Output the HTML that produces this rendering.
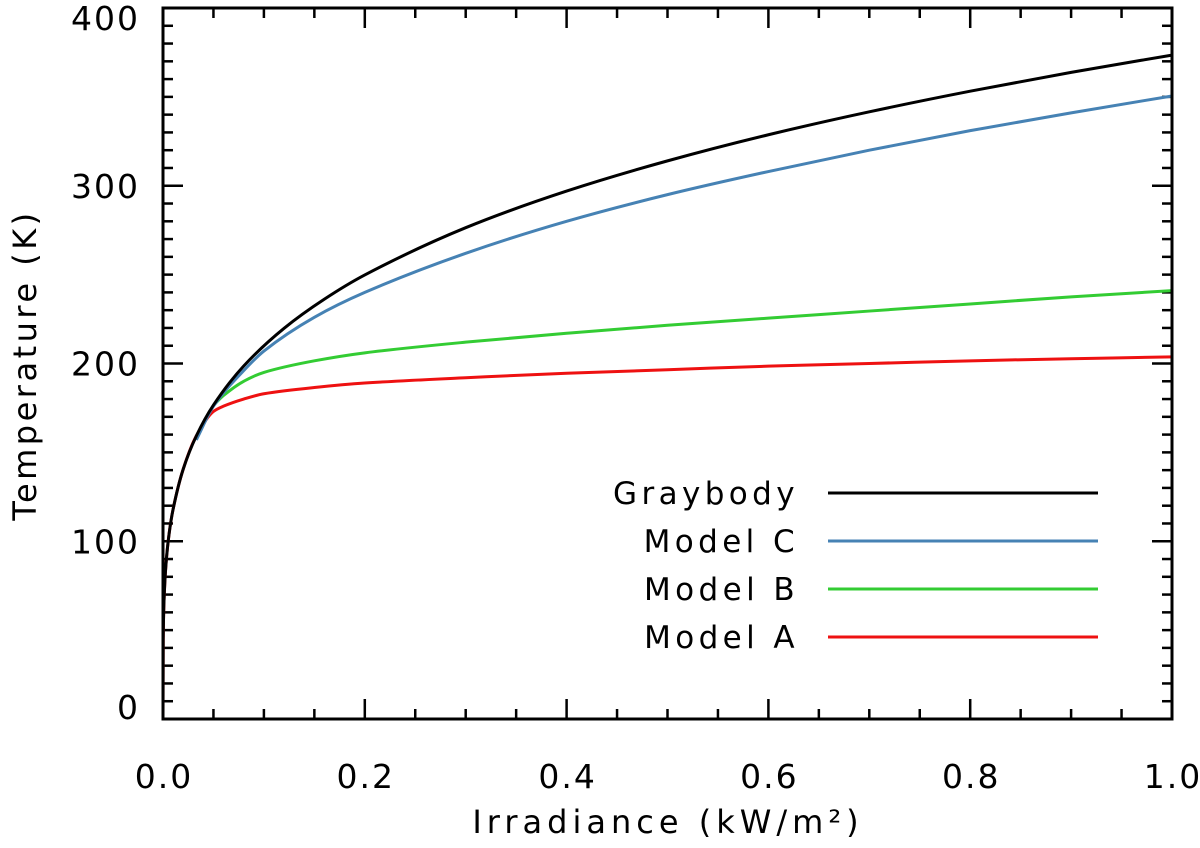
<!DOCTYPE html>
<html><head><meta charset="utf-8"><style>
html,body{margin:0;padding:0;background:#fff;}
svg{display:block;font-family:"DejaVu Sans","Liberation Sans",sans-serif;}
</style></head><body>
<svg id="chart" width="1200" height="848"></svg>
<script>
const gbX=[0,0.0002,0.001,0.003,0.006,0.01,0.02,0.033,0.05,0.08,0.12,0.16,0.2,0.3,0.4,0.5,0.6,0.7,0.8,0.9,1.0];
const gbY=[0,44.4,66.4,87.4,104,118,140.5,159.2,176.6,198.6,219.8,236.2,249.8,276.4,297,314,328.7,341.6,353.2,363.8,373.5];
const aX=[0,0.0002,0.001,0.003,0.006,0.01,0.02,0.033,0.05,0.06,0.08,0.1,0.15,0.2,0.3,0.4,0.5,0.6,0.7,0.8,0.9,1.0];
const aY=[0,44.4,66.4,87.4,104,118,140.5,159.2,173,176,180,183,186.5,189,192,194.5,196.5,198.5,200,201.5,202.7,203.7];
const bX=[0.05,0.06,0.08,0.1,0.15,0.2,0.3,0.4,0.5,0.6,0.7,0.8,0.9,1.0];
const bY=[176.5,182,190,195,201.5,206,212,217,221.5,225.5,229.5,233.5,237.5,241];
const cX=[0.033,0.05,0.08,0.1,0.15,0.2,0.3,0.4,0.5,0.6,0.7,0.8,0.9,1.0];
const cY=[157,176,196,207,226,240,262,280,295,308,320,331,341,350.5];
const xTicks=[0,0.2,0.4,0.6,0.8,1.0];
const xTickLabels=["0.0","0.2","0.4","0.6","0.8","1.0"];
const yTicks=[0,100,200,300,400];
const legendNames=["Graybody","Model C","Model B","Model A"];
const legendColors=["#000000","#4682b4","#33cc33","#ee1111"];

const L=163,R=1172,T=8,B=719;
const sx=v=>L+(R-L)*v;
const sy=v=>B-(B-T)*v/400;
const svg=document.getElementById('chart');
const NS='http://www.w3.org/2000/svg';
function mk(tag,attrs,parent){const e=document.createElementNS(NS,tag);for(const k in attrs)e.setAttribute(k,attrs[k]);(parent||svg).appendChild(e);return e;}

const tg=mk('g',{stroke:'#000','stroke-width':2.5});


for(let i=0;i<=20;i++){const v=i*0.05;const len=(i%4===0)?20:10;const x=sx(v);
 mk('line',{x1:x,y1:B,x2:x,y2:B-len},tg);mk('line',{x1:x,y1:T,x2:x,y2:T+len},tg);}
for(let i=0;i<=40;i++){const v=i*10;const len=(i%10===0)?20:10;const y=sy(v);
 mk('line',{x1:L,y1:y,x2:L+len,y2:y},tg);mk('line',{x1:R,y1:y,x2:R-len,y2:y},tg);}

function smoothPath(xs,ys){
 const px=xs.map(sx),py=ys.map(sy),n=px.length;
 const d=[],m=[];
 for(let i=0;i<n-1;i++)d.push((py[i+1]-py[i])/(px[i+1]-px[i]));
 m[0]=d[0];m[n-1]=d[n-2];
 for(let i=1;i<n-1;i++)m[i]=(d[i-1]*d[i]<=0)?0:2/(1/d[i-1]+1/d[i]);
 let s='M'+px[0].toFixed(2)+','+py[0].toFixed(2);
 for(let i=0;i<n-1;i++){const h=(px[i+1]-px[i])/3;
  s+=' C'+(px[i]+h).toFixed(2)+','+(py[i]+m[i]*h).toFixed(2)+' '+(px[i+1]-h).toFixed(2)+','+(py[i+1]-m[i+1]*h).toFixed(2)+' '+px[i+1].toFixed(2)+','+py[i+1].toFixed(2);}
 return s;}
function series(xs,ys,color,name){
 const p=mk('path',{d:smoothPath(xs,ys),fill:'none',stroke:color,'stroke-width':3,'stroke-linejoin':'round'});
 
 }
series(aX,aY,legendColors[3],'model-a-line');
series(bX,bY,legendColors[2],'model-b-line');
series(cX,cY,legendColors[1],'model-c-line');
series(gbX,gbY,legendColors[0],'graybody-line');

const fr=mk('rect',{x:L,y:T,width:R-L,height:B-T,fill:'none',stroke:'#000','stroke-width':3});



xTicks.forEach((v,i)=>{const t=mk('text',{x:sx(v)+1,y:788,'font-size':33,'text-anchor':'middle','letter-spacing':2});t.textContent=xTickLabels[i];
 
 });
yTicks.forEach(v=>{let cy=sy(v);cy=Math.max(18,Math.min(707,cy));
 const t=mk('text',{x:140,y:cy+12,'font-size':33,'text-anchor':'end','letter-spacing':2});t.textContent=String(v);
 
 });

const xt=mk('text',{x:668,y:833,'font-size':32,'text-anchor':'middle','letter-spacing':5});xt.textContent='Irradiance (kW/m²)';


const yt=mk('text',{x:0,y:0,'font-size':32,'text-anchor':'middle','letter-spacing':3.5,transform:'translate(36,365) rotate(-90)'});yt.textContent='Temperature (K)';



legendNames.forEach((n,i)=>{const y=493+48*i;
 const g=mk('g',{});
 
 
 const t=mk('text',{x:799,y:y+11,'font-size':31,'text-anchor':'end','letter-spacing':4.4},g);t.textContent=n;
 mk('line',{x1:828,y1:y,x2:1098,y2:y,stroke:legendColors[i],'stroke-width':3},g);});
</script>
</body></html>
